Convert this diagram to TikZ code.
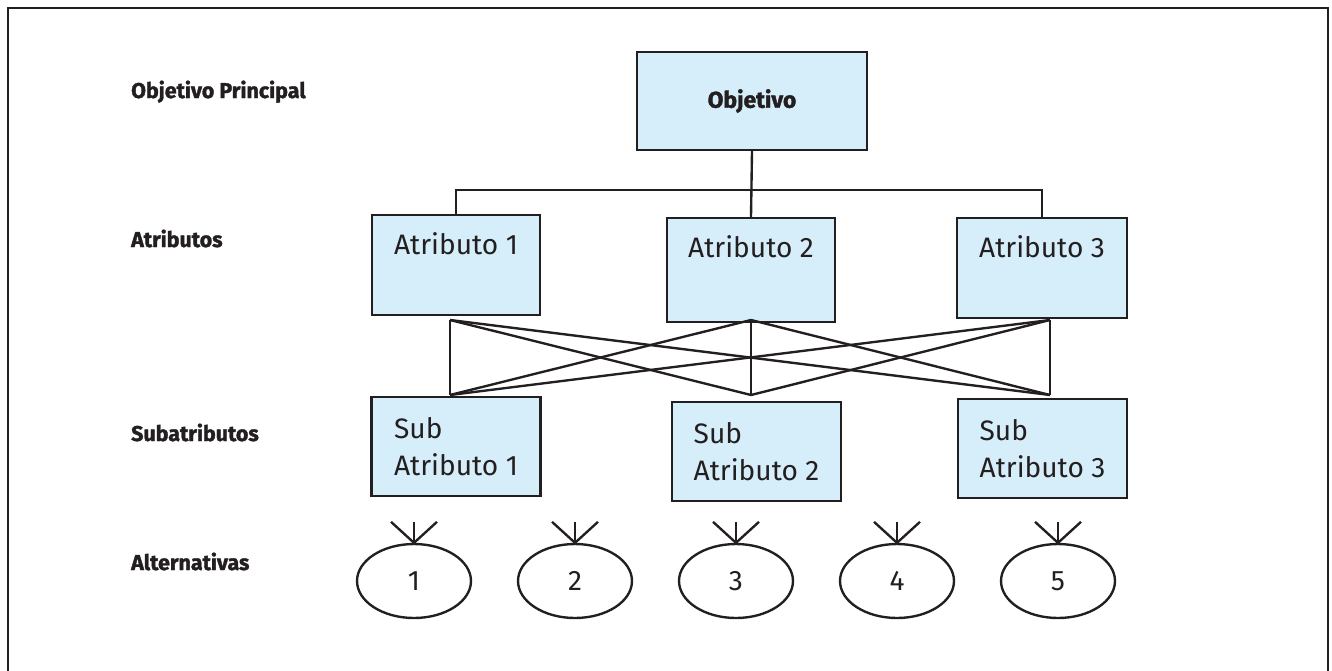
\documentclass[tikz,border=0pt]{standalone}
\usepackage{fontspec}
\setmainfont{Fira Sans}[BoldFeatures={FakeBold=1.6}]
\usetikzlibrary{shapes.geometric}

\definecolor{boxblue}{RGB}{214,238,250}
\definecolor{ink}{RGB}{35,31,32}

\begin{document}
\begin{tikzpicture}[x=0.02cm, y=-0.02cm, line width=1.35pt, draw=ink,
  level/.style={anchor=base west, font=\fontsize{12.2}{15}\bfseries, text=ink, inner sep=0},
  goalbox/.style={draw, fill=boxblue, minimum width=4.6cm, minimum height=1.96cm,
    font=\fontsize{13}{15}\bfseries, text=ink},
  attbox/.style={draw, fill=boxblue, minimum width=3.36cm, inner sep=0,
    text height=0.78cm, font=\fontsize{16}{19}\selectfont, text=ink},
  subbox/.style={draw, fill=boxblue, minimum width=3.38cm, minimum height=1.98cm,
    inner sep=0, align=left, font=\fontsize{16}{21}\selectfont, text=ink},
  alt/.style={draw, ellipse, minimum width=2.28cm, minimum height=1.48cm, inner sep=0,
    font=\fontsize{16}{19}\selectfont, text=ink}]
\clip (0,0) rectangle (1332,670);
\draw[line width=1.6pt] (8,8) rectangle (1328,700);

% level names
\node[level] (lgoal) at (130,98) {Objetivo Principal};
\node[level] (latt) at (130,247) {Atributos};
\node[level] (lsub) at (130,441) {Subatributos};
\node[level] (lalt) at (130,570) {Alternativas};

% boxes
\node[goalbox] (goal) at (752,101) {Objetivo};
\node[attbox, text depth=1.22cm] (a1) at (456,265) {Atributo 1};
\node[attbox, text depth=1.30cm] (a2) at (751,270) {Atributo 2};
\node[attbox, text depth=1.22cm, minimum width=3.4cm] (a3) at (1042,268) {Atributo 3};
\node[subbox] (s1) at (456,446.5) {Sub\\Atributo 1};
\node[subbox] (s2) at (756.5,451.5) {Sub\\Atributo 2};
\node[subbox] (s3) at (1042.5,448.5) {Sub\\Atributo 3};

\coordinate (bus) at (752,190);
\draw (goal.south) -- (a2.north);
\draw (a1.north) |- (bus) -| (a3.north);

% every attribute to every subattribute
\coordinate (t1) at (450,320);
\coordinate (t2) at (751,320);
\coordinate (t3) at (1050,320);
\coordinate (b1) at (450,395);
\coordinate (b2) at (751,395);
\coordinate (b3) at (1050,395);
\foreach \i in {1,2,3}
  \foreach \j in {1,2,3}
    \draw (t\i) -- (b\j);

% alternatives
\foreach \k/\xx in {1/414,2/575,3/736,4/897,5/1058} {
  \node[alt] (e\k) at (\xx,581) {\k};
  \draw (e\k.north) -- ++(-23,-21);
  \draw (e\k.north) -- ++(0,-21);
  \draw (e\k.north) -- ++(23,-21);
}
\end{tikzpicture}
\end{document}
